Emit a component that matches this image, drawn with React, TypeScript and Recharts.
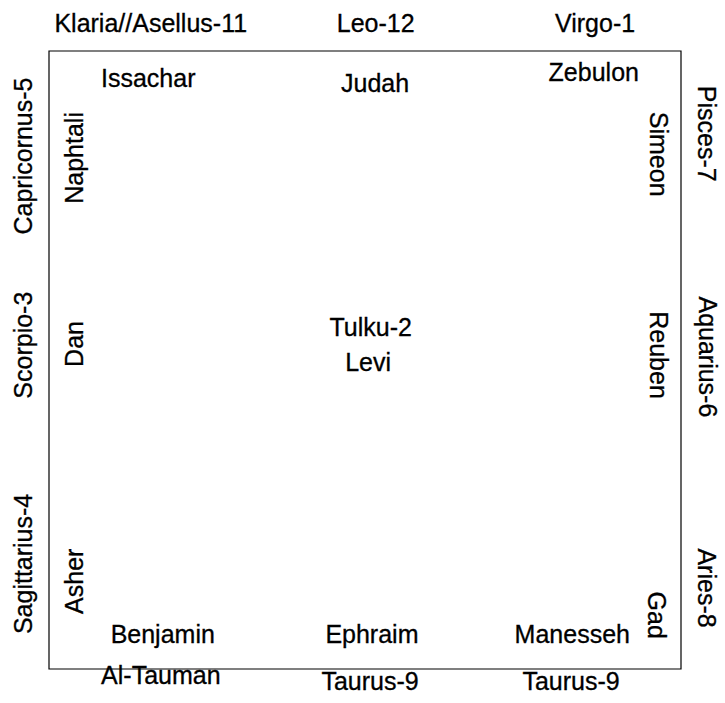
import { ScatterChart, Scatter, XAxis, YAxis, ReferenceArea, ReferenceDot } from "recharts"

// inner labels (tribes), positions in box percent (0..100), side gives orientation
const tribeNames = ["Issachar", "Judah", "Zebulon", "Naphtali", "Simeon", "Dan", "Tulku-2", "Levi", "Reuben", "Asher", "Gad", "Benjamin", "Ephraim", "Manesseh"]
const tribeX = [15.7, 51.6, 86.2, 4.0, 96.5, 4.0, 50.9, 50.5, 96.5, 4.0, 96.2, 18.0, 51.1, 82.8]
const tribeY = [4.3, 5.2, 3.4, 17.3, 16.7, 47.4, 44.7, 50.3, 49.2, 85.8, 91.3, 94.4, 94.4, 94.4]
const tribeSide = ["top", "top", "top", "left", "right", "left", "center", "center", "right", "left", "right", "bottom", "bottom", "bottom"]

// outer labels (signs)
const signNames = ["Klaria//Asellus-11", "Leo-12", "Virgo-1", "Capricornus-5", "Scorpio-3", "Sagittarius-4", "Pisces-7", "Aquarius-6", "Aries-8", "Al-Tauman", "Taurus-9", "Taurus-9"]
const signX = [16.1, 51.7, 86.4, -4.1, -4.1, -4.1, 104.1, 104.3, 104.1, 17.7, 50.8, 82.6]
const signY = [-4.6, -4.6, -4.6, 17.0, 47.6, 83.0, 13.4, 49.5, 86.9, 101.0, 101.9, 101.9]
const signSide = ["top", "top", "top", "left", "left", "left", "right", "right", "right", "bottom", "bottom", "bottom"]

const tribeData = tribeNames.map((name, i) => ({ name, x: tribeX[i], y: tribeY[i], side: tribeSide[i] }))

const FONT = "'Liberation Sans', Arial, sans-serif"
const SIZE = 25

const angleOf = (side: string) => (side === "left" ? -90 : side === "right" ? 90 : 0)

function Word({ cx, cy, text, side }: { cx: number; cy: number; text: string; side: string }) {
  const a = angleOf(side)
  return (
    <text
      x={cx}
      y={cy}
      textAnchor="middle"
      dominantBaseline="central"
      fontSize={SIZE}
      fontFamily={FONT}
      fill="#000"
      stroke="#000"
      strokeWidth={0.3}
      transform={a ? `rotate(${a} ${cx} ${cy})` : undefined}
    >
      {text}
    </text>
  )
}

export default function App() {
  return (
    <div style={{ position: "absolute", left: 0, top: 0, width: 725, height: 703, background: "#fff" }}>
      <ScatterChart width={725} height={703} margin={{ top: 51, right: 44, bottom: 34, left: 49 }}>
        <XAxis type="number" dataKey="x" domain={[0, 100]} allowDataOverflow hide />
        <YAxis type="number" dataKey="y" domain={[0, 100]} reversed allowDataOverflow hide />
        <ReferenceArea x1={0} x2={100} y1={0} y2={100} fill="none" stroke="#000" strokeWidth={1.2} ifOverflow="visible" />
        <Scatter
          data={tribeData}
          isAnimationActive={false}
          shape={(p: any) => <Word cx={p.cx} cy={p.cy} text={p.payload.name} side={p.payload.side} />}
        />
        {signNames.map((name, i) => (
          <ReferenceDot
            key={i}
            x={signX[i]}
            y={signY[i]}
            r={0}
            ifOverflow="visible"
            shape={(p: any) => <Word cx={p.cx} cy={p.cy} text={name} side={signSide[i]} />}
          />
        ))}
      </ScatterChart>
    </div>
  )
}
